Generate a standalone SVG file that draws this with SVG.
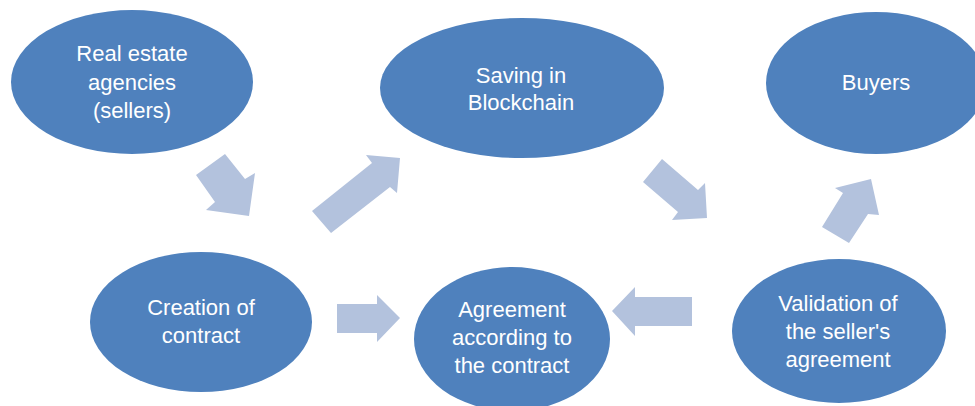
<svg xmlns="http://www.w3.org/2000/svg" width="975" height="406" viewBox="0 0 975 406">
<style>
.node ellipse{fill:#4F81BD}
.node text{fill:#FFFFFF;font-family:"Liberation Sans",Arial,sans-serif;font-size:22px;text-anchor:middle}
.arrow{fill:#B3C2DD}
</style>
<rect width="975" height="406" fill="#FFFFFF"/>
<g id="connectors">
<polygon class="arrow" points="196,175 225,154 245,179 255,173 249,216 206,210 215,202"/>
<polygon class="arrow" points="312,211 372,163 366,155 400,158 397,193 390,187 331,233"/>
<polygon class="arrow" points="643,182 662,159 698,190 705,183 707,218 672,220 678,212"/>
<polygon class="arrow" points="822,227 843,193 835,188 871,179 879,215 868,214 849,243"/>
<polygon class="arrow" points="337,304 377,304 377,295 400,318 377,342 377,333 337,333"/>
<polygon class="arrow" points="692,297 635,297 635,287 612,311 635,336 635,326 692,326"/>
</g>
<g id="node-sellers" class="node">
<ellipse cx="132" cy="82" rx="121" ry="72"/>
<text x="132" y="61">Real estate</text>
<text x="132" y="90">agencies</text>
<text x="132" y="118">(sellers)</text>
</g>
<g id="node-blockchain" class="node">
<ellipse cx="522" cy="88" rx="142" ry="70"/>
<text x="521" y="83">Saving in</text>
<text x="521" y="110">Blockchain</text>
</g>
<g id="node-buyers" class="node">
<ellipse cx="876" cy="83" rx="110" ry="71"/>
<text x="876" y="90">Buyers</text>
</g>
<g id="node-creation" class="node">
<ellipse cx="201" cy="322" rx="111" ry="70"/>
<text x="201" y="315">Creation of</text>
<text x="201" y="343">contract</text>
</g>
<g id="node-agreement" class="node">
<ellipse cx="512" cy="339" rx="98" ry="72"/>
<text x="512" y="317">Agreement</text>
<text x="512" y="345">according to</text>
<text x="512" y="373">the contract</text>
</g>
<g id="node-validation" class="node">
<ellipse cx="839" cy="331" rx="107" ry="72"/>
<text x="838" y="311">Validation of</text>
<text x="838" y="339">the seller's</text>
<text x="838" y="367">agreement</text>
</g>
</svg>
